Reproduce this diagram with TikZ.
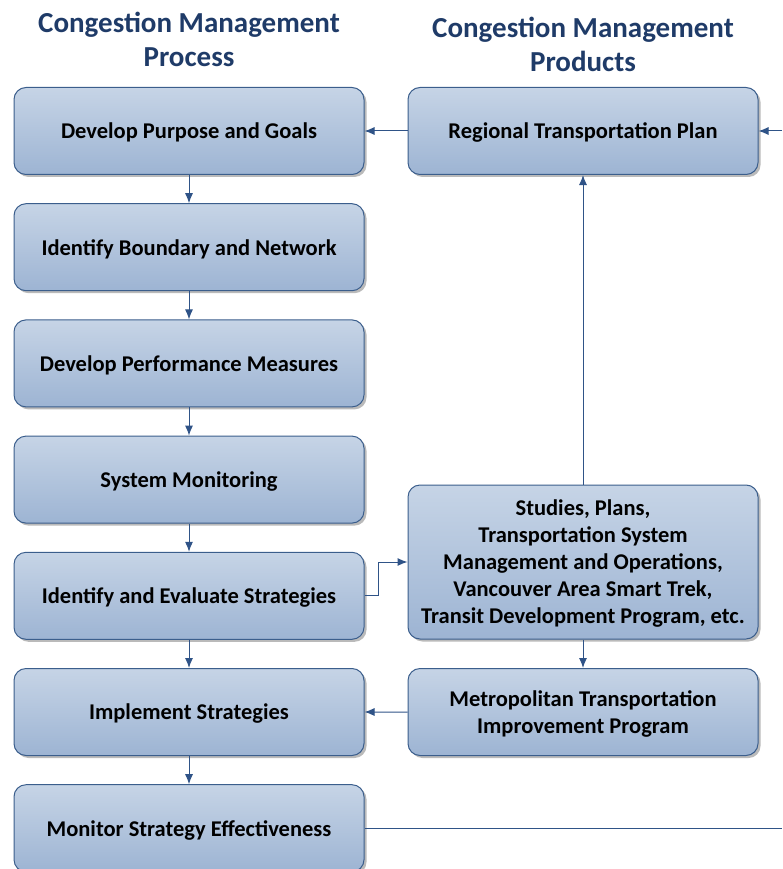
\documentclass[tikz,border=0pt]{standalone}
\usepackage{fontspec}
\setmainfont{Carlito}
\usetikzlibrary{positioning}
\usetikzlibrary{shadows}
\usetikzlibrary{arrows.meta}
\definecolor{titleblue}{HTML}{1F3B68}
\definecolor{boxline}{HTML}{3B5E8C}
\definecolor{boxtop}{HTML}{C6D4E6}
\definecolor{boxbottom}{HTML}{9DB4D3}
\definecolor{flowblue}{HTML}{2F5387}

\begin{document}
\begin{tikzpicture}[x=1pt,y=-1pt,
    stepbox/.style={draw=boxline,line width=1pt,rounded corners=12pt,
        top color=boxtop,bottom color=boxbottom,
        drop shadow={shadow xshift=2.5pt,shadow yshift=-2.5pt,fill=black!45,opacity=.6},
        minimum width=350pt,minimum height=87pt,align=center,text depth=0pt,
        font=\fontsize{22.5}{27}\selectfont\bfseries},
    heading/.style={align=center,text=titleblue,
        font=\fontsize{29}{34}\selectfont\bfseries},
    flow/.style={draw=flowblue,line width=1pt,-{Latex[length=10pt,width=8pt]}},
    node distance=28.2pt]

    \useasboundingbox (0,0) rectangle (782,869);
    \clip (0,0) rectangle (782,869);

    %headings
    \node[heading] (proctitle) at (189,39) {Congestion Management\\Process};
    \node[heading] (prodtitle) at (583,44) {Congestion Management\\Products};

    %process column
    \node[stepbox] (goals) at (189,131) {Develop Purpose and Goals};
    \node[stepbox,below=of goals] (boundary) {Identify Boundary and Network};
    \node[stepbox,below=of boundary] (measures) {Develop Performance Measures};
    \node[stepbox,below=of measures] (monitoring) {System Monitoring};
    \node[stepbox,below=of monitoring] (evaluate) {Identify and Evaluate Strategies};
    \node[stepbox,below=of evaluate] (implement) {Implement Strategies};
    \node[stepbox,below=of implement] (effective) {Monitor Strategy Effectiveness};

    %products column
    \node[stepbox] (rtp) at (583,131) {Regional Transportation Plan};
    \node[stepbox,minimum height=154pt] (studies) at (583,562)
        {Studies, Plans,\\Transportation System\\Management and Operations,\\Vancouver Area Smart Trek,\\Transit Development Program, etc.};
    \node[stepbox] (mtip) at (583,712) {Metropolitan Transportation\\Improvement Program};

    %loop ends at the right edge
    \coordinate (loopin) at (782,131);
    \coordinate (loopout) at (782,829);

    %connectors
    \draw[flow] (goals) -- (boundary);
    \draw[flow] (boundary) -- (measures);
    \draw[flow] (measures) -- (monitoring);
    \draw[flow] (monitoring) -- (evaluate);
    \draw[flow] (evaluate) -- (implement);
    \draw[flow] (implement) -- (effective);

    \draw[flow] (rtp) -- (goals);
    \draw[flow] (loopin) -- (rtp);
    \draw[flow] (studies) -- (rtp);
    \draw[flow] (evaluate.east) -- ++(14,0) |- (studies.west);
    \draw[flow] (studies) -- (mtip);
    \draw[flow] (mtip) -- (implement);
    \draw[flow,-] (effective.east) -- (effective.east -| loopout);

\end{tikzpicture}
\end{document}
